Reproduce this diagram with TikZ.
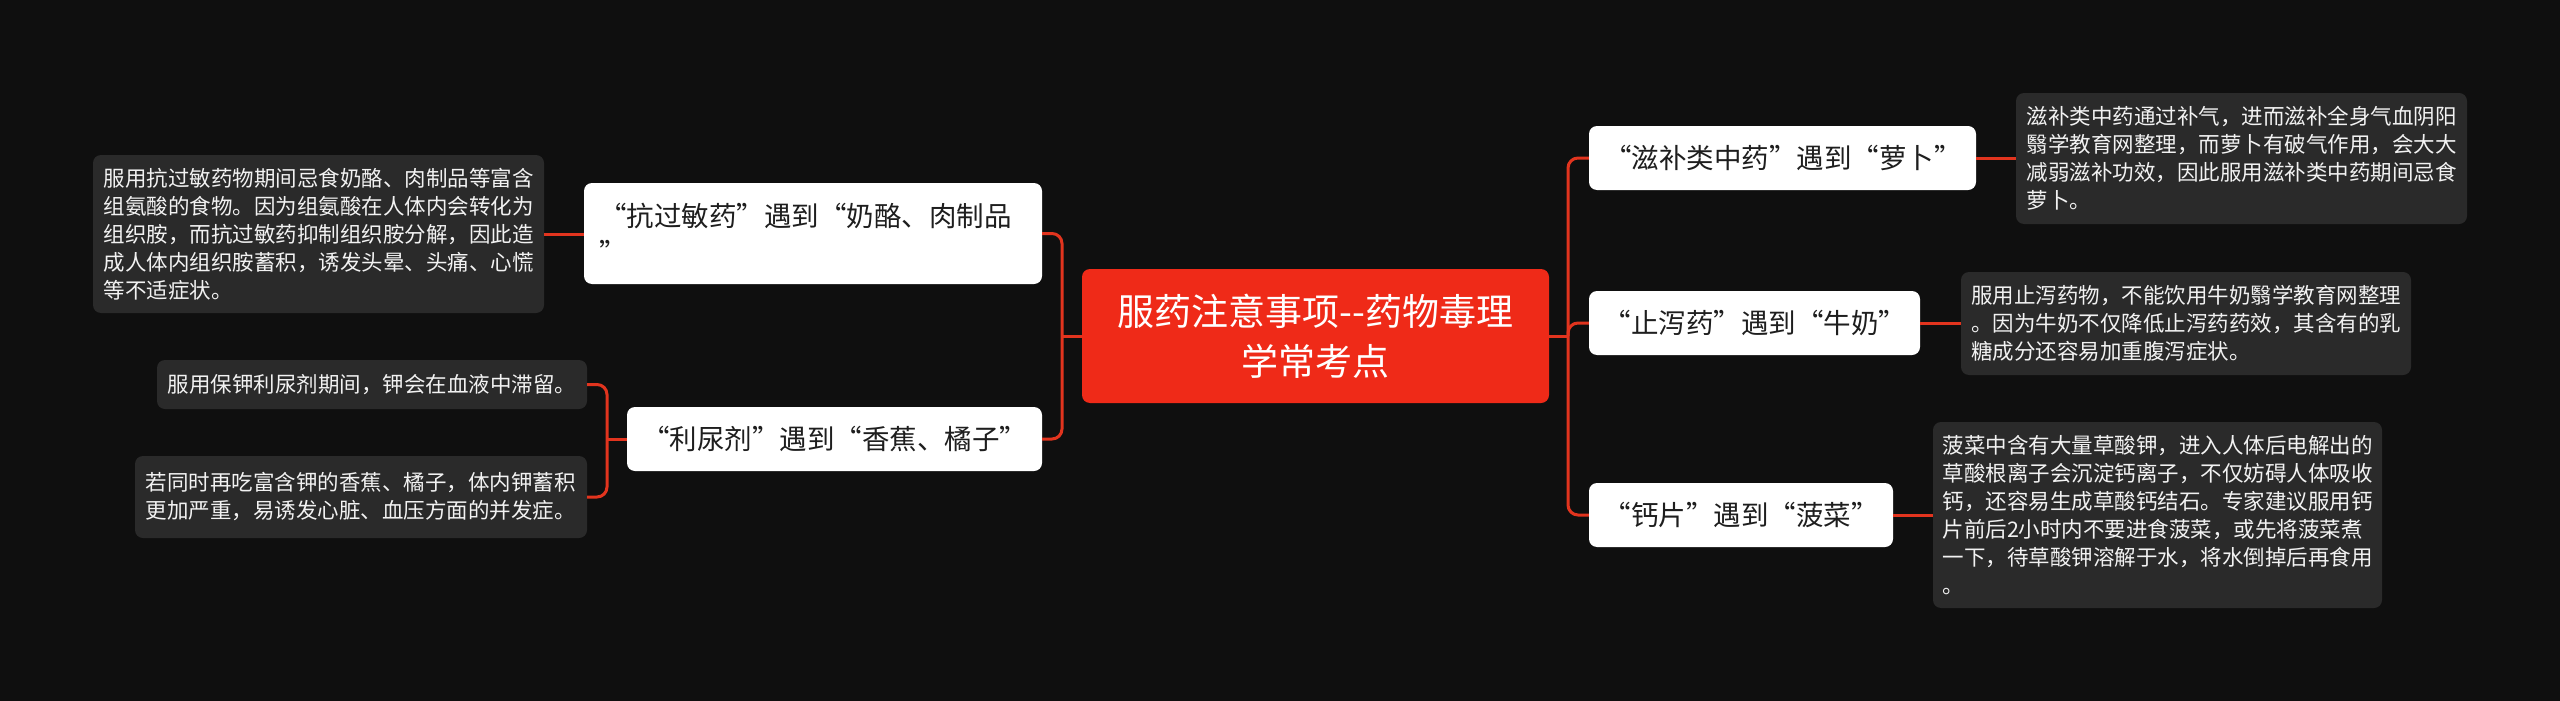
\documentclass[tikz,border=0pt]{standalone}
\usepackage{fontspec}
\newfontfamily\cjk{Noto Sans CJK SC}
\definecolor{bgcol}{HTML}{0F0F0F}
\definecolor{rootred}{HTML}{EF2A18}
\definecolor{linkred}{HTML}{E2341E}
\definecolor{leafgray}{HTML}{2A2A2A}
\definecolor{leaftext}{HTML}{F2F2F2}
\definecolor{branchtext}{HTML}{1E1E1E}
\tikzset{
  rootbox/.style={fill=rootred, rounded corners=8pt, text=white, inner sep=0pt, align=center,
    font=\cjk\fontsize{37}{50}\selectfont},
  branchbox/.style={fill=white, rounded corners=8pt, text=branchtext, inner sep=0pt,
    font=\cjk\fontsize{27.5}{37}\selectfont, minimum height=64pt},
  leafbox/.style={fill=leafgray, rounded corners=8pt, text=leaftext, inner sep=0pt, align=left,
    font=\cjk\fontsize{21.5}{28}\selectfont},
  link/.style={draw=linkred, line width=3pt, rounded corners=10pt},
}
\begin{document}
\begin{tikzpicture}[x=1pt,y=-1pt]
\useasboundingbox (0,0) rectangle (2560,701);
\fill[bgcol] (0,0) rectangle (2560,701);

% root
\node[rootbox, minimum width=467pt, minimum height=134pt, text width=440pt] (root) at (1315.5,336)
  {服药注意事项--药物毒理\\学常考点};

% left branches
\node[branchbox, minimum width=458pt, minimum height=101pt, text width=428pt, align=left] (bL1) at (813,233.5)
  {“抗过敏药”遇到“奶酪、肉制品\\”};
\node[branchbox, minimum width=415pt, text width=385pt, align=center] (bL2) at (834.5,439)
  {“利尿剂”遇到“香蕉、橘子”};

% right branches
\node[branchbox, minimum width=387pt, text width=357pt, align=center] (bR1) at (1782.5,158)
  {“滋补类中药”遇到“萝卜”};
\node[branchbox, minimum width=331pt, text width=302pt, align=center] (bR2) at (1754.5,323)
  {“止泻药”遇到“牛奶”};
\node[branchbox, minimum width=304pt, text width=275pt, align=center] (bR3) at (1741,515)
  {“钙片”遇到“菠菜”};

% left leaves
\node[leafbox, minimum width=451pt, minimum height=158pt, text width=430pt] (lL1) at (318.5,234)
  {服用抗过敏药物期间忌食奶酪、肉制品等富含\\组氨酸的食物。因为组氨酸在人体内会转化为\\组织胺，而抗过敏药抑制组织胺分解，因此造\\成人体内组织胺蓄积，诱发头晕、头痛、心慌\\等不适症状。};
\node[leafbox, minimum width=430pt, minimum height=49pt, text width=409pt] (lL2a) at (372,384.5)
  {服用保钾利尿剂期间，钾会在血液中滞留。};
\node[leafbox, minimum width=452pt, minimum height=82pt, text width=431pt] (lL2b) at (361,497)
  {若同时再吃富含钾的香蕉、橘子，体内钾蓄积\\更加严重，易诱发心脏、血压方面的并发症。};

% right leaves
\node[leafbox, minimum width=451pt, minimum height=131pt, text width=430pt] (lR1) at (2241.5,158.5)
  {滋补类中药通过补气，进而滋补全身气血阴阳\\翳学教育网整理，而萝卜有破气作用，会大大\\减弱滋补功效，因此服用滋补类中药期间忌食\\萝卜。};
\node[leafbox, minimum width=450pt, minimum height=103pt, text width=430pt] (lR2) at (2186,323.5)
  {服用止泻药物，不能饮用牛奶翳学教育网整理\\。因为牛奶不仅降低止泻药药效，其含有的乳\\糖成分还容易加重腹泻症状。};
\node[leafbox, minimum width=449pt, minimum height=186pt, text width=430pt] (lR3) at (2157.5,515)
  {菠菜中含有大量草酸钾，进入人体后电解出的\\草酸根离子会沉淀钙离子，不仅妨碍人体吸收\\钙，还容易生成草酸钙结石。专家建议服用钙\\片前后2小时内不要进食菠菜，或先将菠菜煮\\一下，待草酸钾溶解于水，将水倒掉后再食用\\。};

% junctions
\coordinate (jl) at (1062,336);
\coordinate (jr) at (1568,336);
\coordinate (jl2) at (607,439);

% connectors
\draw[link] (root.west) -- (jl);
\draw[link] (bL1.east) -| (jl) |- (bL2.east);
\draw[link] (root.east) -- (jr);
\draw[link] (bR1.west) -| (jr) |- (bR3.west);
\draw[link] (jr) |- (bR2.west);

\draw[link] (lL1.east) -- (lL1.east -| bL1.west);
\draw[link] (bL2.west) -- (jl2);
\draw[link] (lL2a.east) -| (jl2) |- (lL2b.east);

\draw[link] (bR1.east) -- (bR1.east -| lR1.west);
\draw[link] (bR2.east) -- (bR2.east -| lR2.west);
\draw[link] (bR3.east) -- (bR3.east -| lR3.west);
\end{tikzpicture}
\end{document}
